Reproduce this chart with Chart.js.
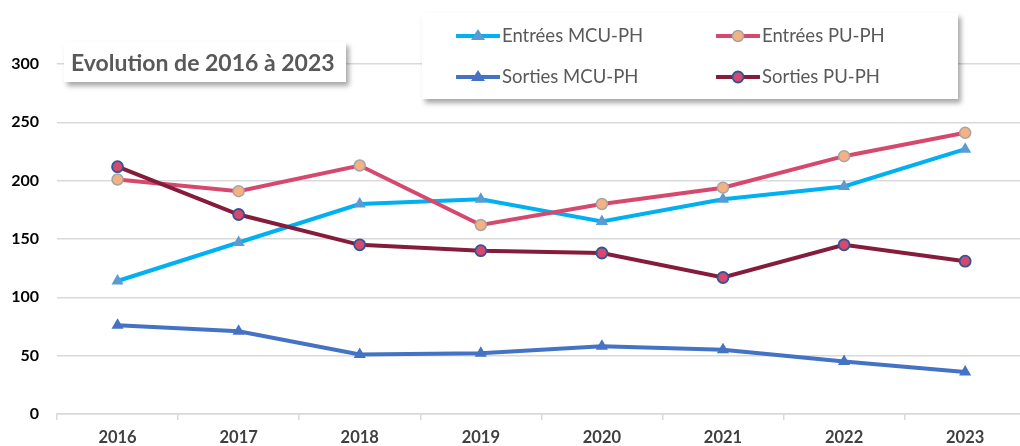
<!DOCTYPE html>
<html><head><meta charset="utf-8">
<script src="https://cdn.jsdelivr.net/npm/chart.js@4"></script>
<style>
html,body{margin:0;padding:0;background:#fff;overflow:hidden;}
#wrap{position:relative;width:1020px;height:446px;overflow:hidden;}
canvas{position:absolute;left:0;top:0;}
#title{position:absolute;left:64px;top:42px;width:282px;height:40px;background:#fff;box-shadow:3px 4px 5px rgba(0,0,0,0.35);font-family:Lato,"Open Sans",sans-serif;font-weight:bold;font-size:23px;color:#595959;line-height:40px;padding-left:7px;box-sizing:border-box;white-space:nowrap;}
#legend{position:absolute;left:422px;top:13px;width:536px;height:86px;background:#fff;box-shadow:3px 4px 5px rgba(0,0,0,0.35);font-family:Lato,"Open Sans",sans-serif;font-size:18.5px;color:#595959;}
.it{position:absolute;height:24px;line-height:24px;white-space:nowrap;}
.it svg{vertical-align:middle;margin-right:2px;position:relative;top:-1px;}
</style></head>
<body><div id="wrap">
<canvas id="c" width="1033" height="446"></canvas>
<div id="title">Evolution de 2016 à 2023</div>
<div id="legend"></div>
</div>
<script>
const categories = ["2016","2017","2018","2019","2020","2021","2022","2023"];
const entreesMCU = [114, 147, 180, 184, 165, 184, 195, 227];
const entreesPU  = [201, 191, 213, 162, 180, 194, 221, 241];
const sortiesMCU = [76, 71, 51, 52, 58, 55, 45, 36];
const sortiesPU  = [212, 171, 145, 140, 138, 117, 145, 131];
const seriesNames = ["Entrées MCU-PH", "Entrées PU-PH", "Sorties MCU-PH", "Sorties PU-PH"];
const yTicks = [0, 50, 100, 150, 200, 250, 300];

const styles = [
  {line:"#00B0F0", fill:"#5B9BD5", border:"#5B9BD5", shape:"triangle", r:7, bw:0},
  {line:"#D6496E", fill:"#F4B183", border:"#A5A5A5", shape:"circle", r:5.5, bw:1.5},
  {line:"#4472C4", fill:"#4472C4", border:"#4472C4", shape:"triangle", r:7, bw:0},
  {line:"#861C3C", fill:"#D6496E", border:"#2F5597", shape:"circle", r:5.5, bw:1.8}
];
const values = [entreesMCU, entreesPU, sortiesMCU, sortiesPU];

const datasets = values.map((v,i)=>({
  label: seriesNames[i], data: v, order: 3 - i,
  borderColor: styles[i].line, borderWidth: 4,
  pointStyle: styles[i].shape, pointRadius: styles[i].r,
  pointBackgroundColor: styles[i].fill, pointBorderColor: styles[i].border,
  pointBorderWidth: styles[i].bw, tension: 0, fill:false
}));
const fontFam = "Lato, 'Open Sans', sans-serif";
new Chart(document.getElementById('c'), {
  type:'line',
  data:{labels:categories, datasets},
  options:{
    responsive:false, animation:false,
    layout:{padding:{top:64,left:0,right:0,bottom:0}},
    plugins:{legend:{display:false}, tooltip:{enabled:false}},
    scales:{
      x:{offset:true,
        grid:{offset:true, drawOnChartArea:false, drawTicks:true, tickLength:6, color:"#D9D9D9", lineWidth:1.5},
        border:{display:true, color:"#D9D9D9", width:1.5},
        ticks:{padding:8, color:"#404040", font:{family:fontFam, size:16.5, weight:"bold"}},
        afterFit:(s)=>{s.height=32;}
      },
      y:{min:0,max:300,
        afterBuildTicks:(s)=>{s.ticks=yTicks.map(v=>({value:v}));},
        grid:{color:"#D9D9D9", lineWidth:1.5, drawTicks:false},
        border:{display:false},
        ticks:{padding:18, color:"#000", font:{family:fontFam, size:16, weight:"bold"}},
        afterFit:(s)=>{s.width=57;}
      }
    }
  }
});

// HTML legend
const pos = [[34,10],[294,10],[34,51],[294,51]];
const lg = document.getElementById('legend');
seriesNames.forEach((n,i)=>{
  const s = styles[i];
  const d = document.createElement('div');
  d.className='it';
  d.style.left=pos[i][0]+'px'; d.style.top=pos[i][1]+'px';
  let mk = s.shape==='triangle'
    ? `<polygon points="22,4 29,15 15,15" fill="${s.fill}"/>`
    : `<circle cx="22" cy="11" r="5.5" fill="${s.fill}" stroke="${s.border}" stroke-width="${s.bw}"/>`;
  d.innerHTML = `<svg width="44" height="22"><line x1="1" y1="11" x2="43" y2="11" stroke="${s.line}" stroke-width="4" stroke-linecap="round"/>${mk}</svg>`;
  d.appendChild(document.createTextNode(n));
  lg.appendChild(d);
});
</script>
</body></html>
